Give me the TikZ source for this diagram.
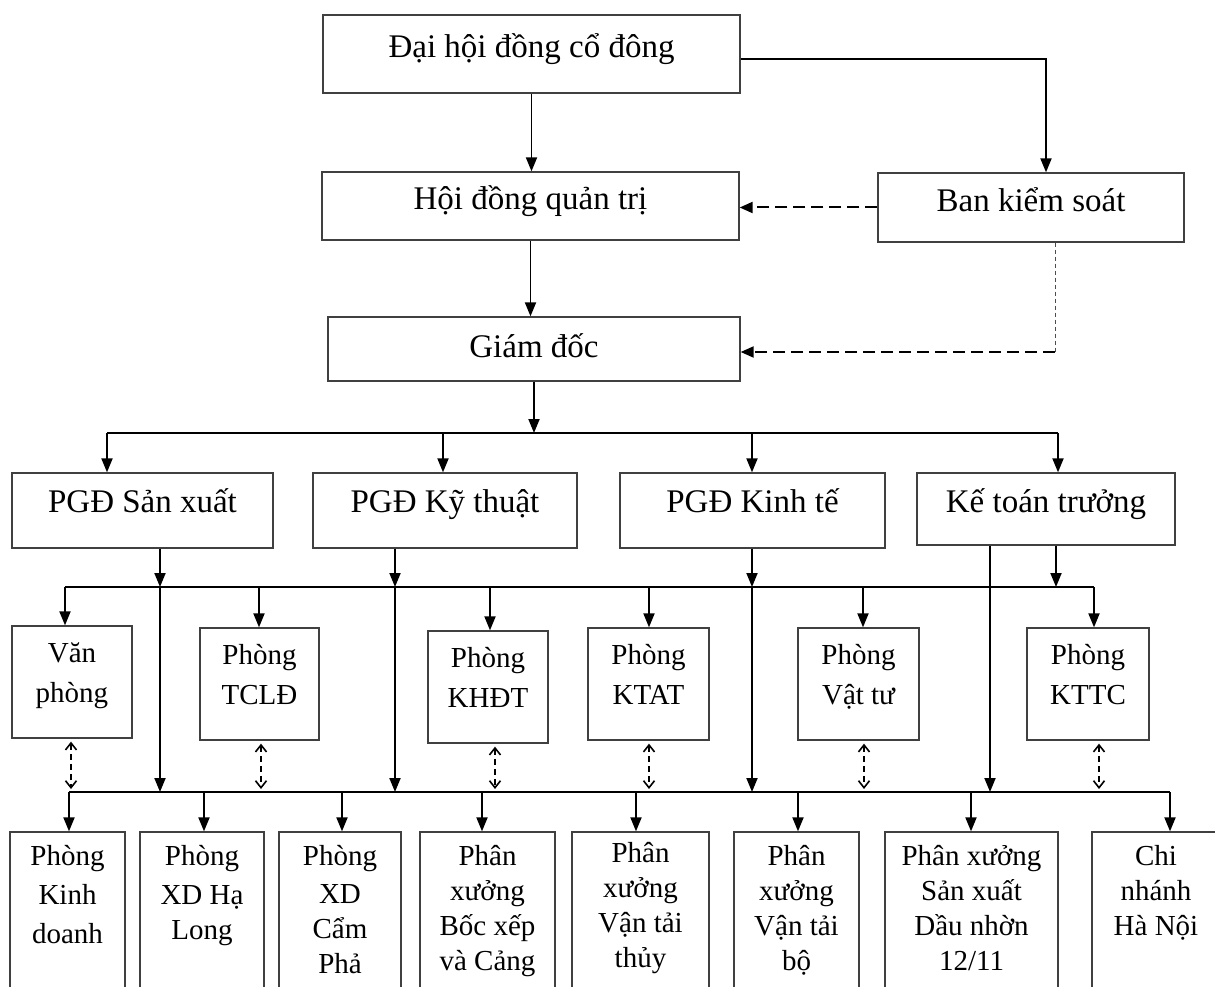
\documentclass[tikz,border=0pt]{standalone}
\usepackage{fontspec}
\setmainfont{Liberation Serif}
\usetikzlibrary{arrows.meta}
\newcommand{\cbx}[4]{\parbox[c][#2pt][t]{#1pt}{\centering\vspace*{#3pt}\strut #4\par}}
\begin{document}
\begin{tikzpicture}[x=1pt,y=-1pt,
  box/.style={draw=black!75, line width=1.3pt, inner sep=0pt, fill=white},
  big/.style={font=\fontsize{33}{40}\selectfont},
  mid/.style={font=\fontsize{29}{40}\selectfont},
  bot/.style={font=\fontsize{29}{35}\selectfont},
  conn/.style={line width=1.9pt, -{Triangle[length=14pt,width=11pt]}},
  plain/.style={line width=1.9pt},
  dsh/.style={line width=2pt, dash pattern=on 12pt off 6pt, -{Triangle[length=13pt,width=11pt]}},
  thindash/.style={line width=0.9pt, black!70, dash pattern=on 4pt off 3pt},
  dbl/.style={line width=1.6pt, dash pattern=on 6pt off 4pt, {Straight Barb[length=7pt,width=11pt,line width=1.6pt]}-{Straight Barb[length=7pt,width=11pt,line width=1.6pt]}}
]
\useasboundingbox (0,0) rectangle (1215,987);

% top level
\node[box,big] (dh)  at (531.5,54)  {\cbx{417}{78}{15}{Đại hội đồng cổ đông}};
\node[box,big] (hd)  at (530.5,206) {\cbx{417}{68}{10}{Hội đồng quản trị}};
\node[box,big] (bks) at (1031,207.5){\cbx{306}{69}{11}{Ban kiểm soát}};
\node[box,big] (gd)  at (534,349)   {\cbx{412}{64}{12}{Giám đốc}};

% PGD row
\node[box,big] (sx)  at (142.5,510.5) {\cbx{261}{75}{11}{PGĐ Sản xuất}};
\node[box,big] (kt)  at (445,510.5)   {\cbx{264}{75}{11}{PGĐ Kỹ thuật}};
\node[box,big] (kte) at (752.5,510.5) {\cbx{265}{75}{11}{PGĐ Kinh tế}};
\node[box,big] (ktt) at (1046,509)    {\cbx{258}{72}{11}{Kế toán trưởng}};

% middle row
\node[box,mid] (vp) at (72,682)    {\cbx{120}{112}{8}{Văn\\phòng}};
\node[box,mid] (tc) at (259.5,684) {\cbx{119}{112}{8}{Phòng\\TCLĐ}};
\node[box,mid] (kh) at (488,687)   {\cbx{120}{112}{8}{Phòng\\KHĐT}};
\node[box,mid] (ka) at (648.5,684) {\cbx{121}{112}{8}{Phòng\\KTAT}};
\node[box,mid] (vt) at (858.5,684) {\cbx{121}{112}{8}{Phòng\\Vật tư}};
\node[box,mid] (kc) at (1088,684)  {\cbx{122}{112}{8}{Phòng\\KTTC}};

% bottom row
\node[box,bot] (kd) at (67.5,917)  {\cbx{115}{170}{9}{Phòng\\[4pt]Kinh\\[4pt]doanh}};
\node[box,bot] (hl) at (202,917)   {\cbx{124}{170}{9}{Phòng\\[4pt]XD Hạ\\Long}};
\node[box,bot] (cp) at (340,917)   {\cbx{122}{170}{9}{Phòng\\[3pt]XD\\Cẩm\\Phả}};
\node[box,bot] (bx) at (487.5,917) {\cbx{135}{170}{9}{Phân\\xưởng\\Bốc xếp\\và Cảng}};
\node[box,bot] (th) at (640.5,917) {\cbx{137}{170}{6}{Phân\\xưởng\\Vận tải\\thủy}};
\node[box,bot] (bo) at (796.5,917) {\cbx{125}{170}{9}{Phân\\xưởng\\Vận tải\\bộ}};
\node[box,bot] (dn) at (971.5,917) {\cbx{173}{170}{9}{Phân xưởng\\Sản xuất\\Dầu nhờn\\12/11}};
\node[box,bot] (cn) at (1156,917)  {\cbx{128}{170}{9}{Chi\\nhánh\\Hà Nội}};

% top connectors
\draw[conn] (dh.south) -- (dh.south |- hd.north);
\draw[conn] (hd.south) -- (hd.south |- gd.north);
\draw[conn] ([yshift=-5pt]dh.east) -| ([xshift=15pt]bks.north);
\draw[dsh] (bks.west) -- (bks.west -| hd.east);
\coordinate (bg) at (1055,352);
\draw[thindash] ([xshift=24pt]bks.south) -- (bg);
\draw[dsh] (bg) -- (bg -| gd.east);

% bus 1
\coordinate (g0) at (534,433);
\coordinate (t1) at (107,433);
\coordinate (t2) at (443,433);
\coordinate (t3) at (752,433);
\coordinate (t4) at (1058,433);
\draw[conn] (gd.south) -- (g0);
\draw[plain] (t1) -- (t4);
\draw[conn] (t1) -- (t1 |- sx.north);
\draw[conn] (t2) -- (t2 |- kt.north);
\draw[conn] (t3) -- (t3 |- kte.north);
\draw[conn] (t4) -- (t4 |- ktt.north);

% bus 2 and bus 3 coordinates
\coordinate (m1) at (160,587);
\coordinate (m2) at (395,587);
\coordinate (m3) at (752,587);
\coordinate (m4) at (1056,587);
\coordinate (k5) at (990,792);
\coordinate (bl) at (65,587);
\coordinate (br) at (1094,587);
\coordinate (cl) at (69,792);
\coordinate (cr) at (1170,792);

% PGD vertical lines
\draw[conn] (sx.south -| m1) -- (m1);
\draw[conn] (m1) -- (m1 |- cl);
\draw[conn] (kt.south -| m2) -- (m2);
\draw[conn] (m2) -- (m2 |- cl);
\draw[conn] (kte.south -| m3) -- (m3);
\draw[conn] (m3) -- (m3 |- cl);
\draw[conn] (ktt.south -| m4) -- (m4);
\draw[conn] (ktt.south -| k5) -- (k5);

% bus 2
\draw[plain] (bl) -- (br);
\coordinate (p1) at (65,587);
\coordinate (p2) at (259,587);
\coordinate (p3) at (490,587);
\coordinate (p4) at (649,587);
\coordinate (p5) at (863,587);
\coordinate (p6) at (1094,587);
\draw[conn] (p1) -- (p1 |- vp.north);
\draw[conn] (p2) -- (p2 |- tc.north);
\draw[conn] (p3) -- (p3 |- kh.north);
\draw[conn] (p4) -- (p4 |- ka.north);
\draw[conn] (p5) -- (p5 |- vt.north);
\draw[conn] (p6) -- (p6 |- kc.north);

% dashed two-way links
\coordinate (d1) at (71,789);
\coordinate (d2) at (261,789);
\coordinate (d3) at (495,789);
\coordinate (d4) at (649,789);
\coordinate (d5) at (864,789);
\coordinate (d6) at (1099,789);
\draw[dbl] ([yshift=-3pt]d1 |- vp.south) -- (d1);
\draw[dbl] ([yshift=-3pt]d2 |- tc.south) -- (d2);
\draw[dbl] ([yshift=-3pt]d3 |- kh.south) -- (d3);
\draw[dbl] ([yshift=-3pt]d4 |- ka.south) -- (d4);
\draw[dbl] ([yshift=-3pt]d5 |- vt.south) -- (d5);
\draw[dbl] ([yshift=-3pt]d6 |- kc.south) -- (d6);

% bus 3
\draw[plain] (cl) -- (cr);
\coordinate (q1) at (69,792);
\coordinate (q2) at (204,792);
\coordinate (q3) at (342,792);
\coordinate (q4) at (482,792);
\coordinate (q5) at (636,792);
\coordinate (q6) at (798,792);
\coordinate (q7) at (971,792);
\coordinate (q8) at (1170,792);
\draw[conn] (q1) -- (q1 |- kd.north);
\draw[conn] (q2) -- (q2 |- hl.north);
\draw[conn] (q3) -- (q3 |- cp.north);
\draw[conn] (q4) -- (q4 |- bx.north);
\draw[conn] (q5) -- (q5 |- th.north);
\draw[conn] (q6) -- (q6 |- bo.north);
\draw[conn] (q7) -- (q7 |- dn.north);
\draw[conn] (q8) -- (q8 |- cn.north);
\end{tikzpicture}
\end{document}
